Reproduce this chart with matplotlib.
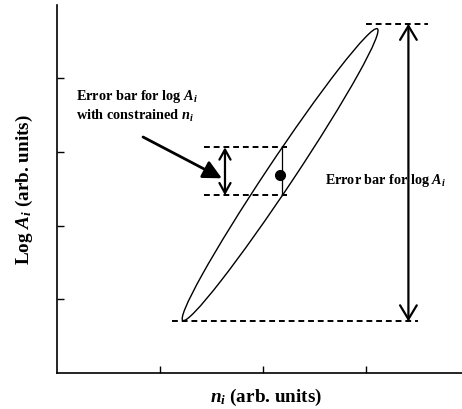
import matplotlib
matplotlib.use('Agg')
import matplotlib.pyplot as plt
import numpy as np
from matplotlib.patches import Ellipse

plt.rcParams['font.family'] = 'serif'
plt.rcParams['font.serif'] = ['Liberation Serif', 'DejaVu Serif']
plt.rcParams['mathtext.fontset'] = 'custom'
plt.rcParams['mathtext.rm'] = 'Liberation Serif:bold'
plt.rcParams['mathtext.it'] = 'Liberation Serif:italic:bold'

# joint confidence ellipse of (n_i, log A_i), arbitrary units
center_n = 2.165
center_logA = 2.69
sigma_n = 0.95
sigma_logA = 1.98
rho = 0.9863

# error bar lines (y level, x start, x end)
full_bar_y = [4.735, 0.70]
full_bar_x0 = [3.00, 1.12]
full_bar_x1 = [3.60, 3.50]
full_arrow_x = 3.41

cond_bar_y = [3.06, 2.41]
cond_bar_x0 = [1.43, 1.43]
cond_bar_x1 = [2.23, 2.23]
cond_arrow_x = 1.63
cond_line_x = 2.18

pointer_from = (0.835, 3.20)
pointer_to = (1.60, 2.64)

x_ticks = [1, 2, 3]
y_ticks = [1, 2, 3, 4]

fig = plt.figure(figsize=(4.62, 4.10), dpi=100)
ax = fig.add_axes([57 / 462, 36 / 410, 405 / 462, 368 / 410])

# ellipse from the covariance matrix
cov = np.array([[sigma_n ** 2, rho * sigma_n * sigma_logA],
                [rho * sigma_n * sigma_logA, sigma_logA ** 2]])
vals, vecs = np.linalg.eigh(cov)
angle = np.degrees(np.arctan2(vecs[1, 1], vecs[0, 1]))
ell = Ellipse((center_n, center_logA), 2 * np.sqrt(vals[1]), 2 * np.sqrt(vals[0]),
              angle=angle, fill=False, edgecolor='black', lw=1.0)
ax.add_patch(ell)

ax.plot(center_n, center_logA, 'ko', markersize=7)

dash = dict(color='black', lw=1.4, linestyle=(0, (3, 2)))
for y, x0, x1 in zip(full_bar_y, full_bar_x0, full_bar_x1):
    ax.plot([x0, x1], [y, y], **dash)
for y, x0, x1 in zip(cond_bar_y, cond_bar_x0, cond_bar_x1):
    ax.plot([x0, x1], [y, y], **dash)

ax.plot([cond_line_x, cond_line_x], cond_bar_y, color='black', lw=0.9)

ax.annotate('', xy=(full_arrow_x, full_bar_y[0]), xytext=(full_arrow_x, full_bar_y[1]),
            arrowprops=dict(arrowstyle='<->,head_length=0.5,head_width=0.3',
                            mutation_scale=20, lw=1.6, color='black',
                            shrinkA=0, shrinkB=0))
ax.annotate('', xy=(cond_arrow_x, cond_bar_y[0]), xytext=(cond_arrow_x, cond_bar_y[1]),
            arrowprops=dict(arrowstyle='<->,head_length=0.45,head_width=0.25',
                            mutation_scale=16, lw=1.6, color='black',
                            shrinkA=0, shrinkB=0))
ax.annotate('', xy=pointer_to, xytext=pointer_from,
            arrowprops=dict(arrowstyle='-|>,head_length=0.7,head_width=0.35',
                            mutation_scale=16, lw=2.0, color='black',
                            shrinkA=0, shrinkB=0))

ax.text(0.18, 3.45, 'Error bar for log $A_i$\nwith constrained $n_i$',
        fontsize=10.3, fontweight='bold', ha='left', va='baseline', linespacing=1.2)
ax.text(2.60, 2.58, 'Error bar for log $A_i$', fontsize=10.2, fontweight='bold',
        ha='left', va='baseline')

ax.set_xlim(0, 3.93)
ax.set_ylim(0, 4.99)
ax.set_xticks(x_ticks)
ax.set_yticks(y_ticks)
ax.set_xticklabels([])
ax.set_yticklabels([])
ax.tick_params(direction='in', length=5, width=1)
ax.spines['top'].set_visible(False)
ax.spines['right'].set_visible(False)
ax.spines['left'].set_linewidth(1.2)
ax.spines['bottom'].set_linewidth(1.2)

ax.set_xlabel('$n_i$ (arb. units)', fontsize=13.8, fontweight='bold')
ax.set_ylabel('Log $A_i$ (arb. units)', fontsize=13.8, fontweight='bold', labelpad=12)
ax.xaxis.set_label_coords(0.516, -0.035, transform=ax.transAxes)
ax.xaxis.label.set_va('top')

fig.savefig('out.png', dpi=100)
